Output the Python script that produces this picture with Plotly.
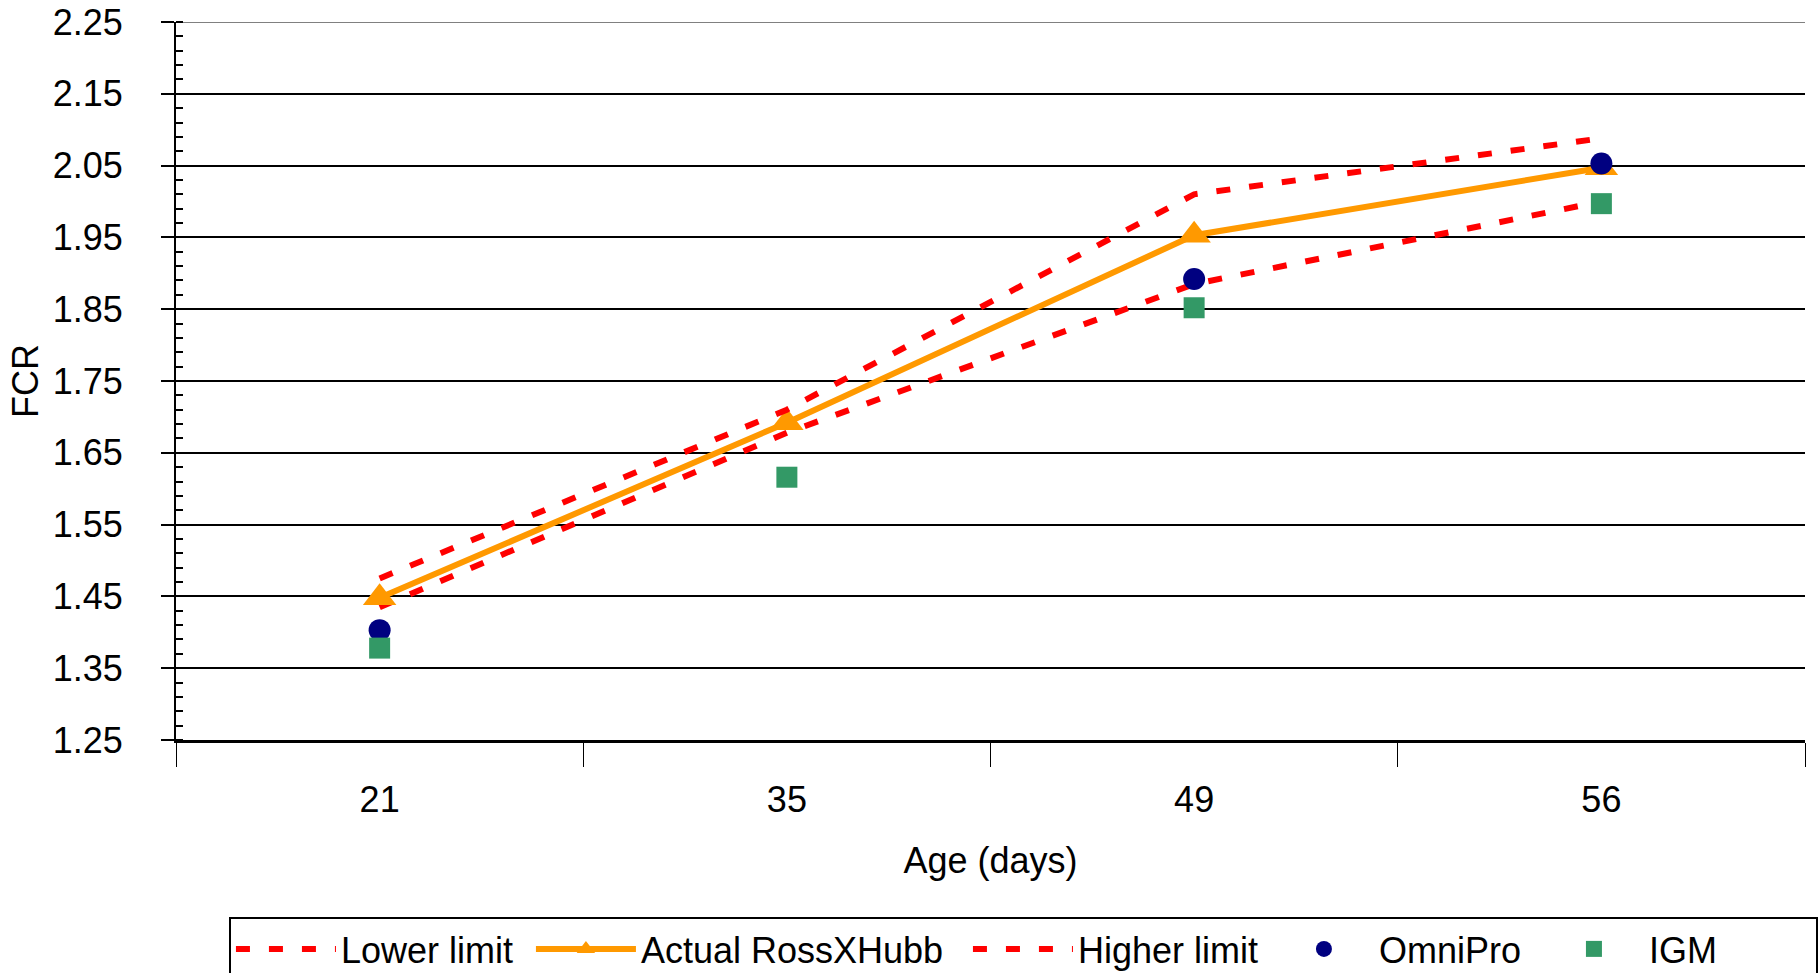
import plotly.graph_objects as go

ages = ["21", "35", "49", "56"]
lower_limit = [1.435, 1.678, 1.885, 2.000]
actual_rossxhubb = [1.448, 1.692, 1.953, 2.047]
higher_limit = [1.475, 1.710, 2.010, 2.088]
omnipro = [1.403, None, 1.892, 2.053]
igm = [1.378, 1.616, 1.852, 1.997]

Y_MIN, Y_MAX = 1.25, 2.25

FONT = "Liberation Sans, Arial, sans-serif"
RED = "#FF0000"
ORANGE = "#FF9900"
NAVY = "#000080"
GREEN = "#339966"

fig = go.Figure()
fig.add_trace(go.Scatter(x=ages, y=lower_limit, name="Lower limit", mode="lines",
                         line=dict(color=RED, width=6, dash="14px,19px"), legendwidth=185))
fig.add_trace(go.Scatter(x=ages, y=actual_rossxhubb, name="Actual RossXHubb", mode="lines+markers",
                         line=dict(color=ORANGE, width=6),
                         marker=dict(symbol="triangle-up", size=29, color=ORANGE), legendwidth=322))
fig.add_trace(go.Scatter(x=ages, y=higher_limit, name="Higher limit", mode="lines",
                         line=dict(color=RED, width=6, dash="14px,19px"), legendwidth=186))
fig.add_trace(go.Scatter(x=ages, y=omnipro, name="OmniPro", mode="markers",
                         marker=dict(symbol="circle", size=22, color=NAVY), legendwidth=155))
fig.add_trace(go.Scatter(x=ages, y=igm, name="IGM", mode="markers",
                         marker=dict(symbol="square", size=21, color=GREEN), legendwidth=162))

fig.update_layout(
    width=1818, height=973,
    margin=dict(l=176, r=13, t=22, b=233, autoexpand=False),
    paper_bgcolor="white", plot_bgcolor="white",
    font=dict(family=FONT, size=36, color="black"),
    showlegend=True,
    legend=dict(orientation="h", x=0.0325, xanchor="left", y=-0.2465, yanchor="top",
                bordercolor="black", borderwidth=2, bgcolor="white",
                font=dict(family=FONT, size=36, color="black"),
                itemwidth=100, tracegroupgap=0),
    shapes=[dict(type="line", xref="paper", yref="y", x0=0, x1=1, y0=Y_MAX, y1=Y_MAX,
                 line=dict(color="#808080", width=2), layer="below")],
)

fig.update_xaxes(
    type="category", range=[-0.5, 3.5], automargin=False,
    showgrid=False, zeroline=False,
    showline=True, linecolor="black", linewidth=3,
    ticks="outside", tickson="boundaries", ticklen=24, tickwidth=1, tickcolor="black",
    ticklabelstandoff=26,
    tickfont=dict(family=FONT, size=36),
    title=dict(text="Age (days)", font=dict(family=FONT, size=36), standoff=29),
)

fig.update_yaxes(
    range=[Y_MIN, Y_MAX], tick0=Y_MIN, dtick=0.1, tickformat=".2f", automargin=False,
    showgrid=True, gridcolor="black", gridwidth=2, zeroline=False,
    showline=True, linecolor="black", linewidth=2,
    ticks="outside", ticklen=13, tickwidth=2, tickcolor="black",
    ticklabelstandoff=31,
    tickfont=dict(family=FONT, size=36),
    minor=dict(ticks="inside", ticklen=7, tickwidth=2, tickcolor="black",
               dtick=0.02, tick0=Y_MIN, showgrid=False),
    title=dict(text="FCR", font=dict(family=FONT, size=36), standoff=3),
)

fig.write_html("out.html")
